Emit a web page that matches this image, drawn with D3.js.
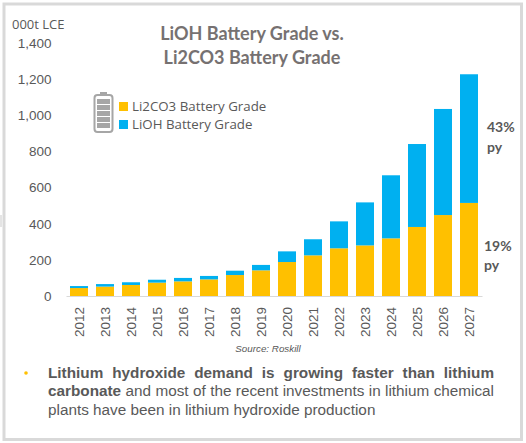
<!DOCTYPE html>
<html><head><meta charset="utf-8">
<script src="https://cdn.jsdelivr.net/npm/d3@7"></script>
<style>html,body{margin:0;padding:0;background:#fff}svg{display:block}</style></head>
<body><svg id="c" width="526" height="443"></svg>
<script>
const years=[2012,2013,2014,2015,2016,2017,2018,2019,2020,2021,2022,2023,2024,2025,2026,2027];
const li2co3=[44,52,61,74,81,92,116,142,188,225,264,280,319,382,448,515];
const lioh=[11,14,15,16,19,19,24,30,59,89,149,238,349,459,587,712];
const yTicks=[0,200,400,600,800,1000,1200,1400];
const titleLines=["LiOH Battery Grade vs.","Li2CO3 Battery Grade"];
const legendLabels=["Li2CO3 Battery Grade","LiOH Battery Grade"];
const colors=["#FFC000","#00B0F0"];

const svg=d3.select("#c");
const lato="Lato,sans-serif", open="'Open Sans',sans-serif", arial="'Liberation Sans',Arial,sans-serif";
const dark="#595959", grey="#767171";

svg.append("rect").attr("x",4).attr("y",4).attr("width",517.5).attr("height",435.5)
  .attr("fill","#fff").attr("stroke","#d9d9d9").attr("stroke-width",3);
svg.append("rect").attr("x",0).attr("y",215).attr("width",2).attr("height",12).attr("fill","#e4e4e4");

const x=d3.scaleBand().domain(years).range([66,482]).paddingInner(8/26).paddingOuter(4/26);
const y=d3.scaleLinear().domain([0,1400]).range([296,43]);

const rows=years.map((yr,i)=>({yr,a:li2co3[i],b:lioh[i]}));
const stack=d3.stack().keys(["a","b"])(rows);
svg.append("g").selectAll("g").data(stack).join("g").attr("fill",(d,i)=>colors[i])
  .selectAll("rect").data(d=>d).join("rect")
  .attr("x",d=>x(d.data.yr)).attr("width",x.bandwidth())
  .attr("y",d=>y(d[1])).attr("height",d=>y(d[0])-y(d[1]));

const ya=svg.append("g").attr("transform","translate(51.5,0)")
  .call(d3.axisLeft(y).tickValues(yTicks).tickSize(0).tickPadding(0).tickFormat(d3.format(",")));
ya.select(".domain").remove();
ya.selectAll("text").attr("font-family",arial).attr("font-size",13.5).attr("fill",dark);

const xa=svg.append("g").attr("transform","translate(0,296)")
  .call(d3.axisBottom(x).tickSize(0).tickFormat(d3.format("d")));
xa.select(".domain").attr("stroke","#d9d9d9").attr("stroke-width",1);
xa.selectAll("text").attr("font-family",arial).attr("font-size",13.5).attr("fill",dark)
  .attr("text-anchor","end").attr("dy","0.35em").attr("dx",0)
  .attr("transform","translate(0,11) rotate(-90)").attr("x",0).attr("y",0);

svg.append("text").attr("x",12).attr("y",29).attr("font-family",open).attr("font-size",13).attr("fill",dark).text("000t LCE");
svg.append("g").selectAll("text").data(titleLines).join("text")
  .attr("x",252).attr("y",(d,i)=>39.5+i*24).attr("text-anchor","middle")
  .attr("font-family",lato).attr("font-size",18).attr("font-weight",700).attr("fill",grey).text(d=>d);

const lg=svg.append("g");
lg.selectAll("rect").data(legendLabels).join("rect").attr("x",119).attr("y",(d,i)=>102+i*18)
  .attr("width",9).attr("height",9).attr("fill",(d,i)=>colors[i]);
lg.selectAll("text").data(legendLabels).join("text").attr("x",132).attr("y",(d,i)=>111+i*18)
  .attr("font-family",open).attr("font-size",13.3).attr("fill",dark).text(d=>d);

const bat=svg.append("g");
bat.append("rect").attr("x",100).attr("y",92).attr("width",7).attr("height",4).attr("fill","#a6a6a6");
bat.append("rect").attr("x",94.5).attr("y",95).attr("width",18).attr("height",37).attr("rx",3).attr("fill","#fff").attr("stroke","#a6a6a6").attr("stroke-width",2);
bat.selectAll(".cell").data(d3.range(5)).join("rect").attr("class","cell")
  .attr("x",97).attr("y",d=>99+d*6).attr("width",13).attr("height",5).attr("fill","#a6a6a6");

const gl=[["43%",487,132],["py",487,152],["19%",484,251],["py",484,270]];
svg.append("g").selectAll("text").data(gl).join("text").attr("x",d=>d[1]).attr("y",d=>d[2])
  .attr("font-family",lato).attr("font-size",14).attr("font-weight",700).attr("fill",dark).text(d=>d[0]);

svg.append("text").attr("x",268).attr("y",352).attr("text-anchor","middle").attr("font-family",arial)
  .attr("font-size",9.8).attr("font-style","italic").attr("fill",dark).text("Source: Roskill");

svg.append("circle").attr("cx",26).attr("cy",373).attr("r",1.8).attr("fill","#FFC000");
const t=svg.append("g").attr("font-family",arial).attr("font-size",15.3).attr("fill",dark);
const justify=(el,w,n)=>el.attr("word-spacing",(w-el.node().getComputedTextLength())/n);
const l1=t.append("text").attr("x",48).attr("y",378).attr("font-weight",700).text("Lithium hydroxide demand is growing faster than lithium");
justify(l1,446,7);
const l2=t.append("text").attr("x",48).attr("y",396);
l2.append("tspan").attr("font-weight",700).text("carbonate");
l2.append("tspan").text(" and most of the recent investments in lithium chemical");
justify(l2,446,9);
t.append("text").attr("x",48).attr("y",415).text("plants have been in lithium hydroxide production");
</script></body></html>
